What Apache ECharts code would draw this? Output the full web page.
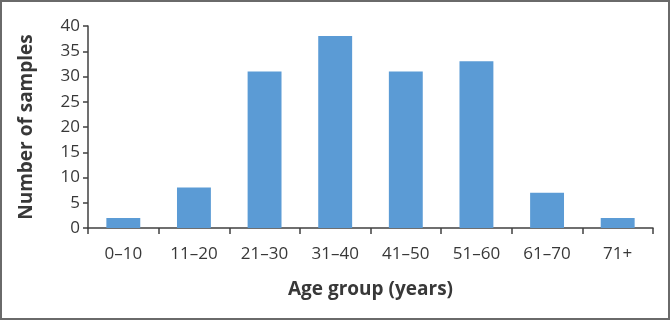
<!DOCTYPE html>
<html>
<head>
<meta charset="utf-8">
<script src="https://cdn.jsdelivr.net/npm/echarts@6/dist/echarts.min.js"></script>
<style>
  html, body { margin: 0; padding: 0; background: #fff; }
  #chart { width: 670px; height: 320px; }
</style>
</head>
<body>
<div id="chart"></div>
<script>
// age groups and sample counts
var ageGroups = ['0\u201310', '11\u201320', '21\u201330', '31\u201340', '41\u201350', '51\u201360', '61\u201370', '71+'];
var sampleCounts = [2, 8, 31, 38, 31, 33, 7, 2];

var myChart = echarts.init(document.getElementById('chart'));
var textColor = '#383838';
var option = {
    animation: false,
    textStyle: { fontFamily: 'Open Sans' },
    graphic: [
        {
            type: 'rect',
            shape: { x: 1, y: 1, width: 668, height: 318 },
            style: { fill: 'none', stroke: '#6a6a6a', lineWidth: 2 }
        }
    ],
    grid: { left: 88, right: 17, top: 26, bottom: 92 },
    xAxis: {
        type: 'category',
        data: ageGroups,
        name: 'Age group (years)',
        nameLocation: 'middle',
        nameGap: 52,
        nameTextStyle: { fontSize: 19, fontWeight: 'bold', color: textColor },
        axisLine: { lineStyle: { color: '#404040', width: 1.5 } },
        axisTick: { show: true, length: 6, lineStyle: { color: '#404040', width: 1.5 } },
        axisLabel: { fontSize: 17, color: textColor, margin: 18 }
    },
    yAxis: {
        type: 'value',
        min: 0,
        max: 40,
        interval: 5,
        name: 'Number of samples',
        nameLocation: 'middle',
        nameGap: 52,
        nameTextStyle: { fontSize: 19, fontWeight: 'bold', color: textColor },
        axisLine: { show: true, lineStyle: { color: '#404040', width: 1.5 } },
        axisTick: { show: true, length: 5, lineStyle: { color: '#404040', width: 1.5 } },
        axisLabel: { fontSize: 17, color: textColor, margin: 8 },
        splitLine: { show: false }
    },
    series: [
        {
            name: 'Samples',
            type: 'bar',
            data: sampleCounts,
            barWidth: '48%',
            itemStyle: { color: '#5b9bd5' }
        }
    ]
};
myChart.setOption(option);
</script>
</body>
</html>
